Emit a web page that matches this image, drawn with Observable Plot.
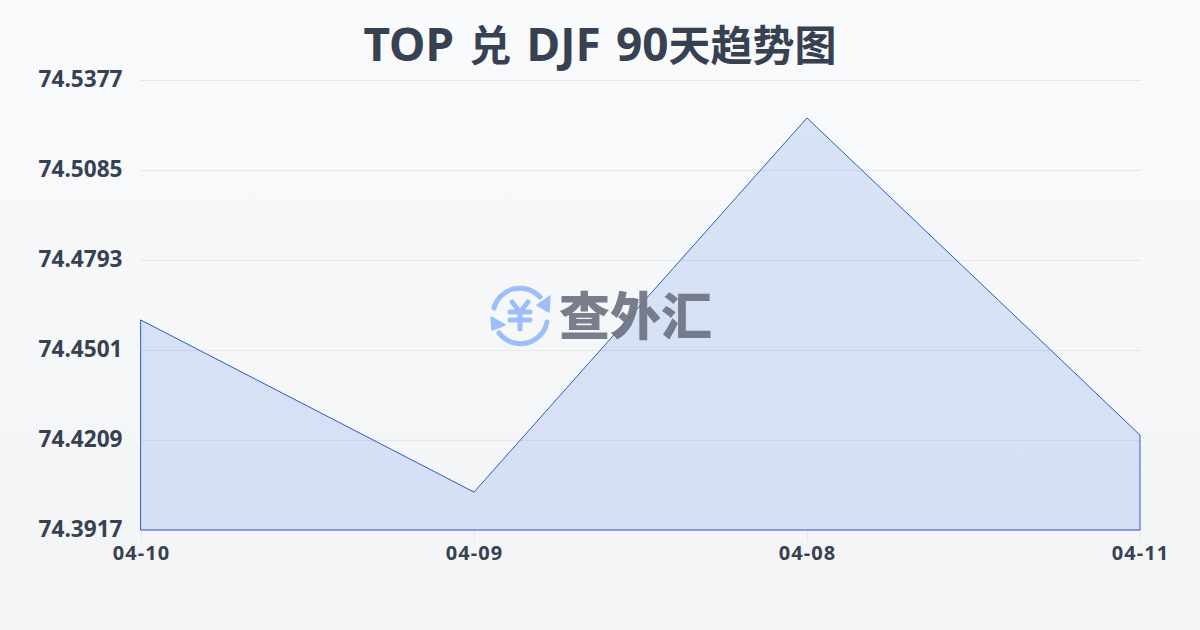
<!DOCTYPE html>
<html lang="zh">
<head>
<meta charset="utf-8">
<script src="https://cdn.jsdelivr.net/npm/d3@7"></script>
<script src="https://cdn.jsdelivr.net/npm/@observablehq/plot@0.6"></script>
<style>
html,body{margin:0;padding:0;width:1200px;height:630px;overflow:hidden}
body{position:relative;background:linear-gradient(180deg,#f8fafc 0%,#f3f4f6 100%);font-family:"Noto Sans","Noto Sans CJK SC",sans-serif}
#title{height:70px;padding-top:14px;box-sizing:border-box;line-height:58px;text-align:center;font-size:46px;word-spacing:3.3px;font-weight:700;color:#374151;white-space:nowrap}
#title b{font:inherit;font-family:"Noto Sans CJK SC",sans-serif;font-size:42px}
#chart svg{display:block;background:transparent}
#chart g[aria-label="x-axis tick label"]{letter-spacing:1.1px}
#mark{position:absolute;left:488px;top:283px;width:230px;height:64px}
#mark span{position:absolute;left:71px;top:-5px;font:900 51px/70px "Noto Sans CJK SC",sans-serif;color:#6b7280;opacity:.9;white-space:nowrap}
</style>
</head>
<body>
<div id="title">TOP <b>兑</b> DJF 90<b>天趋势图</b></div>
<div id="chart"></div>
<div id="mark">
<svg width="64" height="64" viewBox="0 0 64 64" style="position:absolute;left:0;top:0" fill="none" stroke="#9dbff9" stroke-linecap="round" stroke-linejoin="round">
<path d="M6 25A27 27 0 0 1 52 14" stroke-width="5"/>
<path d="M62 13L61 29L49 22Z" fill="#9dbff9" stroke-width="1.5"/>
<path d="M59 39A27 27 0 0 1 11 50" stroke-width="5"/>
<path d="M3 34L4 47L17 42Z" fill="#9dbff9" stroke-width="1.5"/>
<path d="M24 19L32 29L40 19M22 29H42M22 37H42M32 29V46" stroke-width="5"/>
</svg>
<span>查外汇</span>
</div>
<script>
const dates = ["04-10","04-09","04-08","04-11"];
const rates = [74.4598,74.4040,74.5254,74.4225];
const yTicks = [74.3917,74.4209,74.4501,74.4793,74.5085,74.5377];
const rows = dates.map((d,i)=>({d,v:rates[i]}));

const plot = Plot.plot({
  width:1200,height:560,
  marginLeft:140,marginRight:59,marginTop:10,marginBottom:100,
  style:{background:"transparent",fontFamily:'"Noto Sans","Noto Sans CJK SC",sans-serif',overflow:"visible"},
  x:{type:"point",domain:dates,label:null,padding:0},
  y:{domain:[74.3917,74.5377],label:null},
  marks:[
    Plot.ruleY(yTicks,{stroke:"#e5e7eb",strokeWidth:1}),
    Plot.areaY(rows,{x:"d",y1:74.3917,y2:"v",fill:"#2f66e0",fillOpacity:0.15,stroke:"#2a5bc9",strokeWidth:1,strokeOpacity:1}),
    Plot.axisY({ticks:yTicks,tickFormat:d=>d.toFixed(4),tickSize:0,tickPadding:0,anchor:"left",dx:-18,dy:-1,fontSize:22.6,fontWeight:700,fill:"#374151"}),
    Plot.axisX({ticks:dates,tickSize:10,tickPadding:4,stroke:"#e5e7eb",fontSize:20,fontWeight:700,fill:"#374151",dy:1})
  ]
});
document.getElementById("chart").append(plot);
</script>
</body>
</html>
